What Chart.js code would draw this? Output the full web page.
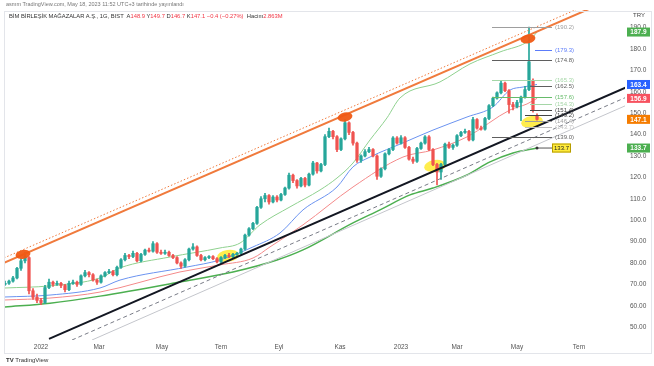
<!DOCTYPE html>
<html>
<head>
<meta charset="utf-8">
<script src="https://cdn.jsdelivr.net/npm/chart.js@4/dist/chart.umd.min.js"></script>
<style>
  body { margin: 0; background: #fff; font-family: "Liberation Sans", Arial, sans-serif; }
  #wrap { position: relative; width: 654px; height: 366px; overflow: hidden; }
  #chart { position: absolute; left: 0; top: 0; }
  .txt { position: absolute; white-space: nowrap; line-height: 1; }
  .r { color: #f23645; }
</style>
</head>
<body>
<div id="wrap">
  <canvas id="chart" width="654" height="366"></canvas>
  <div class="txt" style="left:6px;top:2px;font-size:5.5px;color:#777;">asmm TradingView.com, May 18, 2023 11:52 UTC+3 tarihinde yayınlandı</div>
  <div class="txt" style="left:9px;top:14px;font-size:5.8px;color:#333;">BİM BİRLEŞİK MAĞAZALAR A.Ş., 1G, BIST&nbsp; A<span class="r">148.9</span> Y<span class="r">149.7</span> D<span class="r">146.7</span> K<span class="r">147.1</span> <span class="r">−0.4 (−0.27%)</span>&nbsp; Hacim<span class="r">2.863M</span></div>
  <div class="txt" style="left:633px;top:12px;font-size:6px;color:#444;">TRY</div>
  <div class="txt" style="left:6px;top:357px;font-size:6px;color:#333;"><b>TV</b> TradingView</div>
</div>
<script>
// time axis labels (bar index positions)
const monthLabels = ['2022', 'Mar', 'May', 'Tem', 'Eyl', 'Kas', '2023', 'Mar', 'May', 'Tem'];
const monthPos = [9, 23.5, 39.25, 54, 68.5, 83.75, 99, 113, 128, 143.5];
const priceTicks = [50, 60, 70, 80, 90, 100, 110, 120, 130, 140, 150, 160, 170, 180, 190];

// candles
const opens = [70.0,70.5,71.5,73.0,77.5,81.0,82.5,67.0,64.0,62.5,61.5,68.5,71.0,70.0,70.5,69.5,67.5,70.5,71.0,70.0,
  74.0,75.5,74.5,72.0,71.0,74.0,75.5,76.0,74.5,78.0,81.5,83.5,83.0,84.5,81.0,84.0,86.0,85.5,89.0,85.0,
  84.5,85.0,83.5,82.5,80.0,78.5,81.5,86.5,87.5,83.5,81.5,82.5,83.0,82.0,80.5,82.5,83.5,83.0,84.0,84.5,
  86.5,93.0,96.0,98.5,106.0,110.0,111.5,108.5,110.8,109.4,112.0,115.0,121.0,118.5,116.0,119.5,116.4,121.5,126.7,123.0,
  126.0,139.0,141.5,139.0,133.0,138.0,145.5,141.0,136.0,128.0,130.0,132.0,133.0,130.0,120.5,124.0,131.0,133.0,138.4,136.0,
  138.5,134.0,128.5,127.5,133.5,136.0,138.9,133.0,126.0,122.5,126.0,135.5,134.0,135.0,139.5,141.0,141.5,137.5,147.0,143.0,
  142.5,147.5,153.5,157.0,159.5,164.0,160.5,154.0,153.0,155.0,157.5,161.0,165.0,148.9];
const highs = [71.5,72.0,73.8,78.0,82.0,85.0,83.0,68.0,65.5,63.5,69.5,72.5,71.5,71.5,71.0,70.0,71.5,72.0,71.5,74.5,
  76.5,76.0,75.0,72.5,74.5,76.0,77.0,76.5,78.5,82.0,84.5,84.0,85.5,85.0,84.5,86.5,87.0,90.0,89.5,86.0,
  86.0,85.5,84.0,83.0,80.5,82.0,87.0,89.0,88.0,84.0,83.0,83.5,83.5,82.5,83.0,84.0,84.5,84.5,85.0,87.0,
  93.5,96.5,99.0,106.5,111.0,112.5,112.0,111.5,111.5,112.5,115.5,122.0,121.5,119.0,120.0,120.0,122.0,127.5,127.0,126.5,
  140.0,143.0,142.0,139.5,138.5,147.0,146.0,141.5,136.5,130.5,133.0,134.0,133.5,130.5,124.5,131.5,133.5,139.0,139.0,139.5,
  139.0,134.5,129.5,134.0,136.5,139.5,139.5,133.5,126.5,126.5,136.0,136.5,135.5,140.0,141.5,142.5,142.0,148.0,147.5,144.0,
  148.0,154.0,157.5,160.0,165.3,164.5,161.0,155.0,156.0,158.0,162.5,190.2,166.0,149.7];
const lows = [69.5,70.0,71.0,72.5,76.5,80.0,65.5,63.0,61.5,60.5,61.0,68.0,69.0,69.5,68.5,66.5,67.0,70.0,69.0,69.5,
  73.5,73.5,71.5,70.0,70.5,73.5,75.0,74.0,74.0,77.5,81.0,82.0,82.5,80.5,80.5,83.5,85.0,85.0,84.5,84.0,
  84.0,83.0,82.0,79.5,77.5,78.0,81.0,86.0,83.0,81.0,81.0,82.0,81.5,80.0,80.0,82.0,82.5,82.5,83.5,84.0,
  86.0,92.5,95.5,98.0,105.5,108.5,107.5,108.0,108.5,109.0,111.5,114.5,117.5,115.0,115.5,115.5,116.0,121.0,122.0,122.5,
  125.5,138.5,138.0,132.0,132.5,137.5,140.0,135.0,127.0,127.0,129.5,131.5,129.5,119.0,120.0,123.5,130.5,132.5,135.5,135.5,
  133.5,128.0,126.5,127.0,133.0,135.5,132.5,125.5,116.5,119.0,125.5,133.5,133.0,134.5,139.0,140.5,137.0,137.0,142.5,142.0,
  142.0,147.0,153.0,156.5,159.0,160.0,150.0,151.5,152.5,146.5,157.0,160.5,150.5,146.7];
const closes = [70.5,71.5,73.0,77.5,81.0,83.0,67.0,64.0,62.5,61.5,68.5,71.0,70.0,70.5,69.5,67.5,70.5,71.0,70.0,74.0,
  75.5,74.5,72.0,71.0,74.0,75.5,76.0,74.5,78.0,81.5,83.5,83.0,84.5,81.0,84.0,86.0,85.5,89.0,85.0,84.5,
  85.0,83.5,82.5,80.0,78.5,81.5,86.5,87.5,83.5,81.5,82.5,83.0,82.0,80.5,82.5,83.5,83.0,84.0,84.5,86.5,
  93.0,96.0,98.5,106.0,110.0,111.5,108.5,110.8,109.4,112.0,115.0,121.0,118.5,116.0,119.5,116.4,121.5,126.7,123.0,126.0,
  139.0,141.5,139.0,133.0,138.0,145.5,141.0,136.0,128.0,130.0,132.0,133.0,130.0,120.5,124.0,131.0,133.0,138.4,136.0,138.5,
  134.0,128.5,127.5,133.5,136.0,138.9,133.0,126.0,122.5,126.0,135.5,134.0,135.0,139.5,141.0,141.5,137.5,147.0,143.0,142.5,
  147.5,153.5,157.0,159.5,164.0,160.5,154.0,153.0,155.0,157.5,161.0,174.0,151.4,147.1];

// moving averages as [bar index, price]
const maLightGreen = [[0,68.3],[11.25,69.3],[23.75,73.0],[28.75,77.7],[41.25,82.8],[53.75,87.0],[58.75,89.3],[63.75,97.8],[71.25,106.2],[78.75,114.1],[83,119.7],[87,126.7],[91.25,137.5],[95.5,147.8],[98.75,157.1],[108.75,164.6],[116.25,173.0],[123.75,178.6],[131.25,184.2],[133,187.9]];
const maBlue = [[0,64.1],[11.25,65.0],[23.75,68.3],[28.75,72.0],[45.5,78.1],[53.75,81.4],[62,87.5],[68.75,94.0],[74.5,104.8],[83,115.5],[87,124.9],[91.25,129.5],[99.5,136.1],[107,142.1],[115.5,148.2],[122,152.9],[126.25,160.8],[129.5,162.2],[133,163.4]];
const maRed = [[0,62.7],[11.25,63.6],[23.75,66.4],[43.75,75.8],[53.75,79.1],[62,82.3],[66.25,87.5],[74.5,97.8],[87,115.5],[99.5,129.5],[107,132.8],[115.5,138.9],[126.25,151.5],[130.5,154.3],[133,156.9]];
const maGreen = [[0,59.4],[11.25,61.2],[23.75,64.5],[43.75,71.1],[57,75.8],[68,81.4],[74.5,86.1],[87,98.7],[93.75,104.8],[101.25,111.8],[107,115.0],[115.5,121.1],[121.25,127.2],[127,131.4],[133,133.7]];

// trend lines
const channelTop = [[-0.25,80.05],[155,205.97]];
const channelTopDotted = [[-0.25,82.35],[155,208.3]];
const trendBlack = [[11,44.5],[155.5,162.2]];
const trendDashed = [[16.75,44.0],[155.5,157.6]];
const trendGray = [[21.75,44.0],[155.5,153.8]];

// horizontal levels
const levelPrices = [190.2, 179.3, 174.8, 165.3, 162.5, 157.6, 154.3, 151.4, 149.2, 146.4, 143.7, 139.0];
const levelFrom = [121.75, 132.5, 121.75, 121.75, 131.25, 121.75, 131.25, 131.25, 130, 130, 130, 121.75];
const levelColors = ['#9e9e9e', '#5c7cfa', '#5f5f5f', '#a5d6a7', '#5f5f5f', '#66bb6a', '#a5d6a7', '#444', '#444', '#9e9e9e', '#bdbdbd', '#5f5f5f'];
const levelEnd = 136.75;

// highlights
const orangeMarks = [[4.5,84.0],[85,148.2],[130.75,184.7]];
const yellowMarks = [[55.75,83.3],[107.5,125.3],[131.75,145.9]];
const noteValue = 133.7;
const noteBar = 133;

// right axis price tags
const tagValues = [187.9, 163.4, 156.9, 147.1, 133.7];
const tagColors = ['#4caf50', '#2962ff', '#f7525f', '#f57c00', '#4caf50'];

const upColor = '#26a69a';
const downColor = '#ef5350';
const candleColors = closes.map((c, i) => c >= opens[i] ? upColor : downColor);
const pts = arr => arr.map(([x, y]) => ({ x, y }));

const overlay = {
  id: 'overlay',
  beforeDatasetsDraw(chart) {
    const { ctx, scales: { x, y } } = chart;
    ctx.save();
    ctx.fillStyle = 'rgba(255,235,59,0.9)';
    yellowMarks.forEach(([i, p]) => {
      ctx.beginPath();
      ctx.ellipse(x.getPixelForValue(i), y.getPixelForValue(p), 11, 6, -0.15, 0, Math.PI * 2);
      ctx.fill();
    });
    ctx.restore();
  },
  afterDatasetsDraw(chart) {
    const { ctx, scales: { x, y } } = chart;
    ctx.save();
    const xe = x.getPixelForValue(levelEnd);
    ctx.font = '6px "Liberation Sans", Arial';
    ctx.textBaseline = 'middle';
    levelPrices.forEach((p, k) => {
      const py = Math.round(y.getPixelForValue(p)) + 0.5;
      ctx.strokeStyle = levelColors[k];
      ctx.lineWidth = 1;
      ctx.beginPath();
      ctx.moveTo(x.getPixelForValue(levelFrom[k]), py);
      ctx.lineTo(xe, py);
      ctx.stroke();
      ctx.fillStyle = levelColors[k];
      ctx.fillText('(' + p.toFixed(1) + ')', xe + 3, py);
    });
    // note on the slow average
    const dx = x.getPixelForValue(noteBar), dy = y.getPixelForValue(noteValue);
    ctx.strokeStyle = '#555';
    ctx.beginPath();
    ctx.moveTo(dx, dy);
    ctx.lineTo(xe, dy);
    ctx.stroke();
    ctx.fillStyle = '#333';
    ctx.beginPath();
    ctx.arc(dx, dy, 1.5, 0, Math.PI * 2);
    ctx.fill();
    ctx.fillStyle = '#ffeb3b';
    ctx.strokeStyle = '#b59b00';
    ctx.fillRect(xe, dy - 4.5, 19, 9);
    ctx.strokeRect(xe + 0.5, dy - 4, 18, 8);
    ctx.fillStyle = '#222';
    ctx.textAlign = 'center';
    ctx.fillText(noteValue.toFixed(1), xe + 9.5, dy + 0.5);
    // orange highlights
    ctx.fillStyle = 'rgba(240,90,20,0.95)';
    orangeMarks.forEach(([i, p]) => {
      ctx.beginPath();
      ctx.ellipse(x.getPixelForValue(i), y.getPixelForValue(p), 7.5, 4.5, -0.2, 0, Math.PI * 2);
      ctx.fill();
    });
    ctx.restore();
  },
  afterDraw(chart) {
    const { ctx, scales: { y }, chartArea } = chart;
    ctx.save();
    ctx.font = 'bold 6.5px "Liberation Sans", Arial';
    ctx.textAlign = 'center';
    ctx.textBaseline = 'middle';
    tagValues.forEach((v, k) => {
      const py = y.getPixelForValue(v);
      ctx.fillStyle = tagColors[k];
      ctx.fillRect(chartArea.right + 2, py - 4.5, 23, 9);
      ctx.fillStyle = '#fff';
      ctx.fillText(v.toFixed(1), chartArea.right + 13.5, py + 0.5);
    });
    ctx.strokeStyle = '#e3e5ea';
    ctx.lineWidth = 1;
    ctx.strokeRect(4.5, 11.5, 647, 342);
    ctx.restore();
  }
};

new Chart(document.getElementById('chart'), {
  type: 'bar',
  data: {
    datasets: [
      { type: 'line', data: pts(channelTop), borderColor: '#f07a3c', borderWidth: 2, pointRadius: 0, order: 0 },
      { type: 'line', data: pts(channelTopDotted), borderColor: '#f07a3c', borderWidth: 1, borderDash: [1.5, 2], pointRadius: 0, order: 0 },
      { type: 'line', data: pts(trendBlack), borderColor: '#131722', borderWidth: 2, pointRadius: 0, order: 0 },
      { type: 'line', data: pts(trendDashed), borderColor: '#787b86', borderWidth: 1, borderDash: [4, 3], pointRadius: 0, order: 0 },
      { type: 'line', data: pts(trendGray), borderColor: '#c4c6cc', borderWidth: 1, pointRadius: 0, order: 0 },
      { data: closes.map((c, i) => ({ x: i, y: [opens[i], c] })), backgroundColor: candleColors, barThickness: 2.6, minBarLength: 1, grouped: false, order: 1 },
      { data: closes.map((c, i) => ({ x: i, y: [lows[i], highs[i]] })), backgroundColor: candleColors, barThickness: 1, grouped: false, order: 2 },
      { type: 'line', data: pts(maLightGreen), borderColor: '#8fd18f', borderWidth: 1, pointRadius: 0, cubicInterpolationMode: 'monotone', order: 3 },
      { type: 'line', data: pts(maBlue), borderColor: '#6b93f0', borderWidth: 1, pointRadius: 0, cubicInterpolationMode: 'monotone', order: 3 },
      { type: 'line', data: pts(maRed), borderColor: '#f48a8a', borderWidth: 1, pointRadius: 0, cubicInterpolationMode: 'monotone', order: 3 },
      { type: 'line', data: pts(maGreen), borderColor: '#4caf50', borderWidth: 1.5, pointRadius: 0, cubicInterpolationMode: 'monotone', order: 3 }
    ]
  },
  options: {
    responsive: false,
    devicePixelRatio: 1,
    animation: false,
    layout: { padding: { left: 4, top: 10, right: 0, bottom: 12 } },
    plugins: { legend: { display: false }, tooltip: { enabled: false } },
    scales: {
      x: {
        type: 'linear', min: -0.25, max: 155, offset: false,
        grid: { display: false, drawTicks: false }, border: { display: false },
        afterBuildTicks: s => { s.ticks = monthPos.map(v => ({ value: v })); },
        afterFit: s => { s.height = 14; },
        ticks: {
          autoSkip: false, maxRotation: 0, padding: 3, color: '#555', font: { size: 6.5 },
          callback: v => monthLabels[monthPos.indexOf(v)] ?? ''
        }
      },
      y: {
        type: 'linear', position: 'right', min: 44, max: 198.2,
        grid: { display: false, drawTicks: false }, border: { display: false },
        afterBuildTicks: s => { s.ticks = priceTicks.map(v => ({ value: v })); },
        afterFit: s => { s.width = 29; },
        ticks: {
          padding: 5, color: '#555', font: { size: 6.5 },
          callback: v => v >= 100 ? v.toFixed(1) : v.toFixed(2)
        }
      }
    }
  },
  plugins: [overlay]
});
</script>
</body>
</html>
